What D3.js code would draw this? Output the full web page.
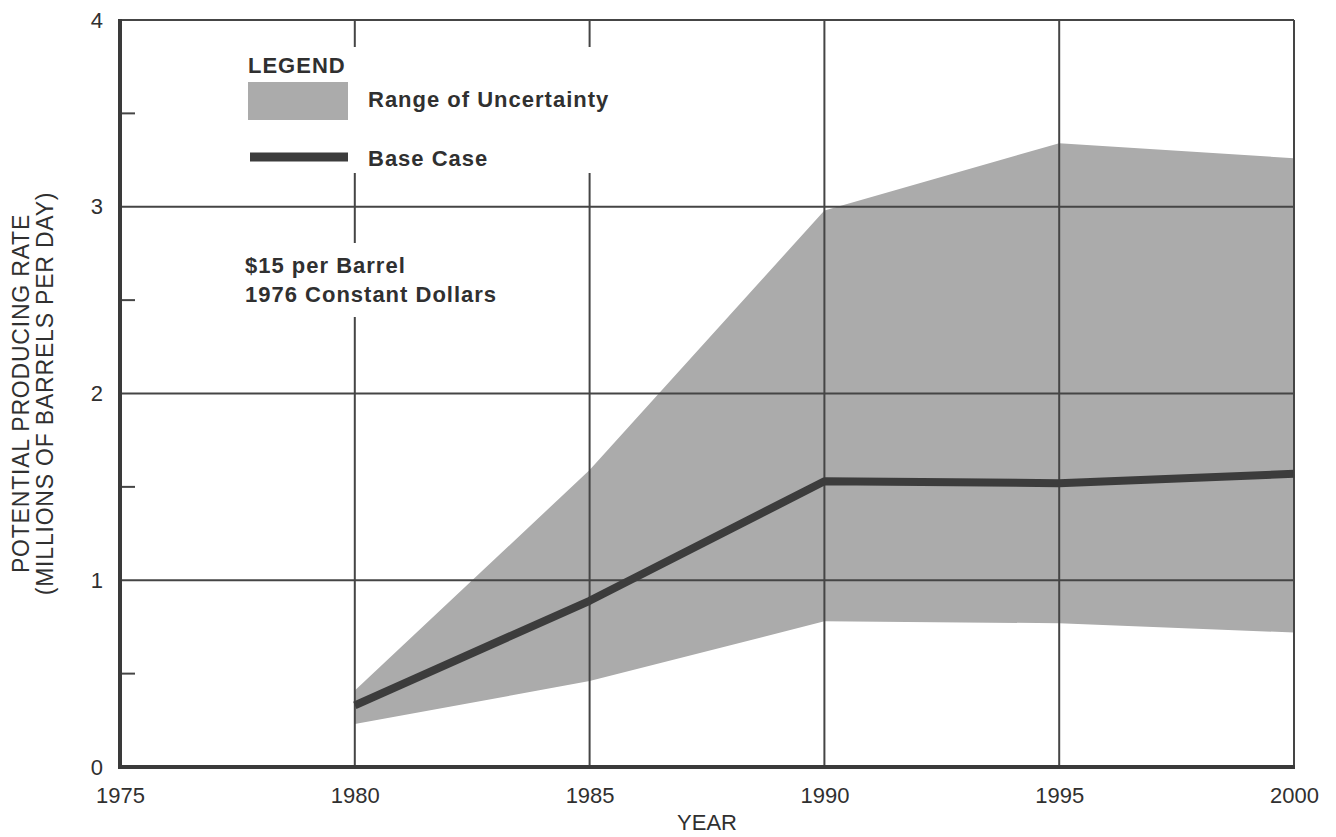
<!DOCTYPE html>
<html>
<head>
<meta charset="utf-8">
<script src="https://cdn.jsdelivr.net/npm/d3@7/dist/d3.min.js"></script>
<style>
  html, body { margin: 0; padding: 0; background: #ffffff; }
  svg { display: block; font-family: "Liberation Sans", Arial, Helvetica, sans-serif; }
</style>
</head>
<body>
<svg id="chart" width="1336" height="837"></svg>
<script>
// ---- Data ----
const years = [1980, 1985, 1990, 1995, 2000];
const baseCase = [0.33, 0.89, 1.53, 1.52, 1.57];
const upperBound = [0.41, 1.59, 2.98, 3.34, 3.26];
const lowerBound = [0.23, 0.46, 0.78, 0.77, 0.72];
const xTicks = [1975, 1980, 1985, 1990, 1995, 2000];
const yTicks = [0, 1, 2, 3, 4];
const yMinorTicks = [0.5, 1.5, 2.5, 3.5];
const yTitleLines = ["POTENTIAL PRODUCING RATE", "(MILLIONS OF BARRELS PER DAY)"];
const xTitle = "YEAR";
const legendTitle = "LEGEND";
const legendItems = ["Range of Uncertainty", "Base Case"];
const noteLines = ["$15 per Barrel", "1976 Constant Dollars"];

// ---- Layout ----
const W = 1336, H = 837;
const m = { left: 120, top: 20, right: 42, bottom: 70 };
const x0 = m.left, x1 = W - m.right, y0 = H - m.bottom, y1 = m.top;

const bandColor = "#ababab";
const lineColor = "#3c3c3c";
const gridColor = "#454545";
const textColor = "#303030";

const svg = d3.select("#chart");
const x = d3.scaleLinear().domain([1975, 2000]).range([x0, x1]);
const y = d3.scaleLinear().domain([0, 4]).range([y0, y1]);

const rows = years.map((yr, i) => ({ yr, base: baseCase[i], hi: upperBound[i], lo: lowerBound[i] }));

// Band
svg.append("path")
  .datum(rows)
  .attr("d", d3.area().x(d => x(d.yr)).y0(d => y(d.lo)).y1(d => y(d.hi)))
  .attr("fill", bandColor);

// Grid lines
const grid = svg.append("g");
grid.selectAll("line.h")
  .data(yTicks.filter(v => v > 0 && v < 4))
  .join("line")
  .attr("x1", x0).attr("x2", x1)
  .attr("y1", d => y(d)).attr("y2", d => y(d))
  .attr("stroke", gridColor).attr("stroke-width", 2);
grid.selectAll("line.v")
  .data(xTicks.filter(v => v > 1975 && v < 2000))
  .join("line")
  .attr("x1", d => x(d)).attr("x2", d => x(d))
  .attr("y1", y1).attr("y2", y0)
  .attr("stroke", gridColor).attr("stroke-width", 2);

// Frame: top and right thin, left and bottom thick
svg.append("line").attr("x1", x0).attr("x2", x1).attr("y1", y1).attr("y2", y1)
  .attr("stroke", gridColor).attr("stroke-width", 2);
svg.append("line").attr("x1", x1).attr("x2", x1).attr("y1", y1).attr("y2", y0)
  .attr("stroke", gridColor).attr("stroke-width", 2);

// Minor ticks on left axis
svg.selectAll("line.minor")
  .data(yMinorTicks)
  .join("line")
  .attr("x1", x0).attr("x2", x0 + 15)
  .attr("y1", d => y(d)).attr("y2", d => y(d))
  .attr("stroke", gridColor).attr("stroke-width", 2);

// Base case line
svg.append("path")
  .datum(rows)
  .attr("d", d3.line().x(d => x(d.yr)).y(d => y(d.base)))
  .attr("fill", "none")
  .attr("stroke", lineColor)
  .attr("stroke-width", 8)
  .attr("stroke-linejoin", "round");

// Main axes lines
svg.append("line").attr("x1", x0).attr("x2", x0).attr("y1", y1 - 1).attr("y2", y0 + 2)
  .attr("stroke", "#3a3a3a").attr("stroke-width", 4);
svg.append("line").attr("x1", x0 - 2).attr("x2", x1 + 1).attr("y1", y0).attr("y2", y0)
  .attr("stroke", "#3a3a3a").attr("stroke-width", 4);

// Axes tick labels
const xAxis = svg.append("g")
  .attr("transform", `translate(0,${y0})`)
  .call(d3.axisBottom(x).tickValues(xTicks).tickFormat(d3.format("d")).tickSize(0).tickPadding(20));
xAxis.select(".domain").remove();
xAxis.selectAll("text").attr("font-size", 22).attr("fill", textColor)
  .attr("font-family", "'Liberation Sans', Arial, sans-serif");

const yAxis = svg.append("g")
  .attr("transform", `translate(${x0},0)`)
  .call(d3.axisLeft(y).tickValues(yTicks).tickFormat(d3.format("d")).tickSize(0).tickPadding(17));
yAxis.select(".domain").remove();
yAxis.selectAll("text").attr("font-size", 22).attr("fill", textColor)
  .attr("font-family", "'Liberation Sans', Arial, sans-serif");

// Axis titles
const yt = svg.append("g").attr("transform", `translate(0,${(y0 + y1) / 2}) rotate(-90)`);
yt.selectAll("text")
  .data(yTitleLines)
  .join("text")
  .attr("x", 0)
  .attr("y", (d, i) => 29 + i * 24)
  .attr("text-anchor", "middle")
  .attr("font-size", 23)
  .attr("letter-spacing", 0.8)
  .attr("fill", textColor)
  .text(d => d);

svg.append("text")
  .attr("x", (x0 + x1) / 2)
  .attr("y", 830)
  .attr("text-anchor", "middle")
  .attr("font-size", 22)
  .attr("fill", textColor)
  .text(xTitle);

// Legend block
const legend = svg.append("g");
const legendBg = legend.append("rect").attr("fill", "#ffffff");
const lg = legend.append("g");
lg.append("text")
  .attr("x", 248).attr("y", 73)
  .attr("font-size", 22).attr("font-weight", "bold").attr("letter-spacing", 1)
  .attr("fill", textColor).text(legendTitle);
lg.append("rect")
  .attr("x", 248).attr("y", 82).attr("width", 100).attr("height", 38)
  .attr("fill", bandColor);
lg.append("line")
  .attr("x1", 250).attr("x2", 348).attr("y1", 157).attr("y2", 157)
  .attr("stroke", lineColor).attr("stroke-width", 9);
lg.selectAll("text.item")
  .data(legendItems)
  .join("text")
  .attr("class", "item")
  .attr("x", 368)
  .attr("y", (d, i) => 107 + i * 59)
  .attr("font-size", 22).attr("font-weight", "bold").attr("letter-spacing", 1)
  .attr("fill", textColor)
  .text(d => d);
const lb = lg.node().getBBox();
legendBg.attr("x", lb.x - 4).attr("y", lb.y - 6).attr("width", lb.width + 8).attr("height", lb.height + 8);

// Note block
const note = svg.append("g");
const noteBg = note.append("rect").attr("fill", "#ffffff");
const ng = note.append("g");
ng.selectAll("text")
  .data(noteLines)
  .join("text")
  .attr("x", 245)
  .attr("y", (d, i) => 273 + i * 29)
  .attr("font-size", 22).attr("font-weight", "bold").attr("letter-spacing", 1)
  .attr("fill", textColor)
  .text(d => d);
const nb = ng.node().getBBox();
noteBg.attr("x", nb.x - 4).attr("y", nb.y - 10).attr("width", nb.width + 8).attr("height", nb.height + 20);
</script>
</body>
</html>
